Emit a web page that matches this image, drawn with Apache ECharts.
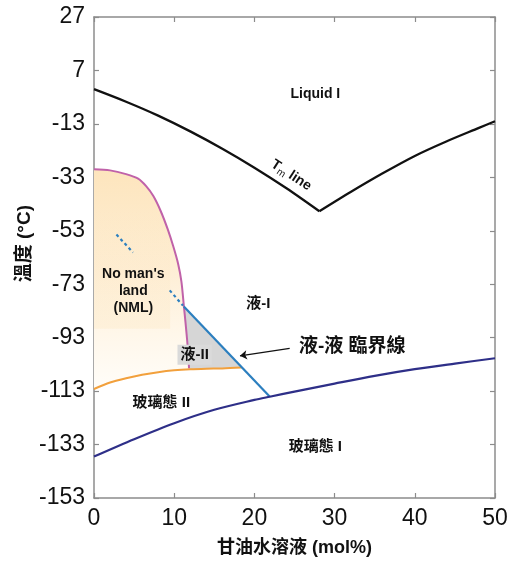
<!DOCTYPE html>
<html><head><meta charset="utf-8">
<script src="https://cdn.jsdelivr.net/npm/echarts@6/dist/echarts.min.js"></script>
<style>html,body{margin:0;padding:0;background:#fff}#c{width:515px;height:562px}</style>
</head><body><div id="c"></div>
<script>
// ---- data ----
const xTickValues = [0, 10, 20, 30, 40, 50];
const yTickValues = [-153, -133, -113, -93, -73, -53, -33, -13, 7, 27];

const tmLeftX = [0, 4, 8, 12, 16, 20, 24, 28.1];
const tmLeftT = [0, -4.7, -9.9, -15.8, -22.3, -29.4, -37.1, -45.7];
const tmRightX = [28.1, 32, 36, 40, 44, 48, 50];
const tmRightT = [-45.7, -38.5, -31.5, -25, -19.5, -14.5, -12];

const nmlX = [0, 2, 4, 5.5, 6.5, 7.4, 8.3, 9.2, 9.9, 10.5, 10.9, 11.2, 11.4, 11.6, 11.75, 11.85];
const nmlT = [-30, -30.4, -31.8, -33.5, -36.3, -40, -45.5, -52.5, -59, -65.5, -72, -81, -87, -93.5, -99, -104.5];

const orangeX = [0, 2, 4, 6, 8, 10, 12, 14, 16, 18.4];
const orangeT = [-112.2, -109.8, -108.2, -106.9, -105.9, -105.2, -104.8, -104.6, -104.5, -104.2];

const blueX = [11.2, 21.9];
const blueT = [-81.3, -115];
const dot1X = [2.8, 4.86];
const dot1T = [-54.4, -61.1];
const dot2X = [9.44, 11.1];
const dot2T = [-75.3, -81.0];

const navyX = [0, 5, 10, 15, 20, 21.9, 25, 30, 35, 40, 45, 50];
const navyT = [-137.5, -131, -125, -120, -116.3, -115.1, -113.2, -110.2, -107.3, -104.8, -102.7, -100.7];

// enclosed regions
const grayX = [11.2, 18.4, 16, 14, 12, 11.85, 11.75, 11.6, 11.4, 11.2];
const grayT = [-81.3, -104.2, -104.5, -104.6, -104.8, -104.85, -99, -93.5, -87, -81];
const nmlFillX = nmlX.concat([11.85, 10, 8, 6, 4, 2, 0]);
const nmlFillT = nmlT.concat([-104.85, -105.2, -105.9, -106.9, -108.2, -109.8, -112.2]);
const nmlBoxX = [0, 9.5, 9.5, 0];
const nmlBoxT = [-45, -45, -89.7, -89.7];

const labelTexts = ['Liquid I', "No man's\nland\n(NML)", '液-I', '液-II', '液-液 臨界線', '玻璃態 II', '玻璃態 I'];
const labelX = [27.6, 4.9, 20.5, 12.55, 32.2, 8.4, 27.6];
const labelT = [-1.7, -75.7, -80.3, -99.4, -96.3, -117.5, -133.8];
const tmLabelPos = [24.6, -32.2];

const arrowFrom = [24.4, -97];
const arrowTo = [18.2, -99.8];

const xName = '甘油水溶液 (mol%)';
const yName = '溫度 (°C)';

// ---- chart ----
const FF = '"Liberation Sans","Noto Sans CJK TC",sans-serif';
const TXT = '#111111';
const zip = (xs, ts) => xs.map((x, i) => [x, ts[i]]);
const chart = echarts.init(document.getElementById('c'), null, {renderer: 'canvas'});

function polyRender(xs, ts, style) {
  return function (params, api) {
    if (params.dataIndex !== 0) return null;
    const pts = xs.map((x, i) => api.coord([x, ts[i]]));
    return {type: 'polygon', shape: {points: pts}, style: style, silent: true};
  };
}
function lineSeries(xs, ts, color, width, extra) {
  return Object.assign({
    type: 'line', data: zip(xs, ts), showSymbol: false, symbol: 'none', silent: true,
    smooth: 0.3, lineStyle: {color: color, width: width}, z: 5, animation: false
  }, extra || {});
}

const frameColor = '#8c8c8c';
const axisCommon = {
  axisLine: {show: true, onZero: false, lineStyle: {color: frameColor, width: 1.5}},
  axisTick: {show: true, inside: true, length: 5, lineStyle: {color: frameColor, width: 1.2}},
  splitLine: {show: false}
};

const labelStyles = [
  {fontSize: 14},
  {fontSize: 14, lineHeight: 17},
  {fontSize: 15},
  {fontSize: 15, backgroundColor: '#dadada', padding: [3, 3, 2, 3]},
  {fontSize: 19},
  {fontSize: 15},
  {fontSize: 15}
];

const option = {
  animation: false,
  backgroundColor: '#ffffff',
  grid: {left: 94, right: 20, top: 17, bottom: 59, containLabel: false},
  graphic: [{
    type: 'text', left: 15, top: 205, rotation: Math.PI / 2, silent: true,
    style: {text: yName, fontSize: 19, fontWeight: 'bold', fill: TXT, fontFamily: FF}
  }],
  xAxis: [
    Object.assign({
      type: 'value', min: 0, max: 50, interval: 10, position: 'bottom',
      axisLabel: {fontSize: 23, color: TXT, fontFamily: FF, margin: 9,
        customValues: xTickValues},
      name: xName, nameLocation: 'middle', nameGap: 41,
      nameTextStyle: {fontSize: 18, fontWeight: 'bold', color: TXT, fontFamily: FF}
    }, axisCommon),
    Object.assign({
      type: 'value', min: 0, max: 50, interval: 10, position: 'top',
      axisLabel: {show: false}
    }, axisCommon)
  ],
  yAxis: [
    Object.assign({
      type: 'value', min: -153, max: 27, position: 'left',
      axisLabel: {fontSize: 23, color: TXT, fontFamily: FF, margin: 9,
        customValues: yTickValues}
    }, axisCommon, {axisTick: Object.assign({}, axisCommon.axisTick, {customValues: yTickValues})}),
    Object.assign({
      type: 'value', min: -153, max: 27, position: 'right',
      axisLabel: {show: false}
    }, axisCommon, {axisTick: Object.assign({}, axisCommon.axisTick, {customValues: yTickValues})})
  ],
  series: [
    {
      type: 'custom', data: zip(nmlFillX, nmlFillT), z: 1, silent: true,
      renderItem: polyRender(nmlFillX, nmlFillT, {
        fill: new echarts.graphic.LinearGradient(0, 0, 0, 1, [
          {offset: 0, color: '#fde5bd'},
          {offset: 0.45, color: '#feeed5'},
          {offset: 0.75, color: '#fff7ea'},
          {offset: 1, color: '#fffdf9'}
        ])
      })
    },
    {
      type: 'custom', data: zip(nmlBoxX, nmlBoxT), z: 2, silent: true,
      renderItem: polyRender(nmlBoxX, nmlBoxT, {
        fill: new echarts.graphic.LinearGradient(0, 0, 0, 1, [
          {offset: 0, color: 'rgba(250,222,170,0)'},
          {offset: 1, color: 'rgba(250,222,170,0.22)'}
        ])
      })
    },
    {
      type: 'custom', data: zip(grayX, grayT), z: 2, silent: true,
      renderItem: polyRender(grayX, grayT, {fill: '#d6d6d6'})
    },
    lineSeries(nmlX, nmlT, '#c062a9', 2),
    lineSeries(orangeX, orangeT, '#f2a03c', 2),
    lineSeries(blueX, blueT, '#2c7fbf', 2.2, {smooth: false}),
    lineSeries(dot1X, dot1T, '#2c7fbf', 2.2, {smooth: false, lineStyle: {color: '#2c7fbf', width: 2.2, type: [3, 3]}}),
    lineSeries(dot2X, dot2T, '#2c7fbf', 2.2, {smooth: false, lineStyle: {color: '#2c7fbf', width: 2.2, type: [3, 3]}}),
    lineSeries(tmLeftX, tmLeftT, '#111111', 2.3),
    lineSeries(tmRightX, tmRightT, '#111111', 2.3),
    lineSeries(navyX, navyT, '#2e2f88', 2.2),
    {
      type: 'lines', coordinateSystem: 'cartesian2d', silent: true, z: 6,
      data: [{coords: [arrowFrom, arrowTo]}],
      symbol: ['none', 'arrow'], symbolSize: [0, 7],
      lineStyle: {color: '#111111', width: 1.2, opacity: 1, curveness: 0}
    },
    {
      type: 'scatter', silent: true, z: 10, symbolSize: 0.1,
      itemStyle: {color: 'rgba(0,0,0,0)', opacity: 1},
      data: labelTexts.map((t, i) => ({
        value: [labelX[i], labelT[i]], name: t,
        label: Object.assign({
          show: true, position: 'inside', formatter: t, color: TXT, opacity: 1,
          fontWeight: 'bold', fontFamily: FF, align: 'center', verticalAlign: 'middle'
        }, labelStyles[i])
      })).concat([{
        value: tmLabelPos, name: 'Tm line',
        label: {
          show: true, position: 'inside', rotate: -33, opacity: 1,
          formatter: '{t|T}{s|m}{t| line}',
          rich: {
            t: {fontSize: 14, fontWeight: 'bold', color: TXT, fontFamily: FF, lineHeight: 18},
            s: {fontSize: 10, color: TXT, fontFamily: FF, verticalAlign: 'bottom', lineHeight: 18}
          }
        }
      }])
    }
  ]
};
chart.setOption(option);
</script>
</body></html>
